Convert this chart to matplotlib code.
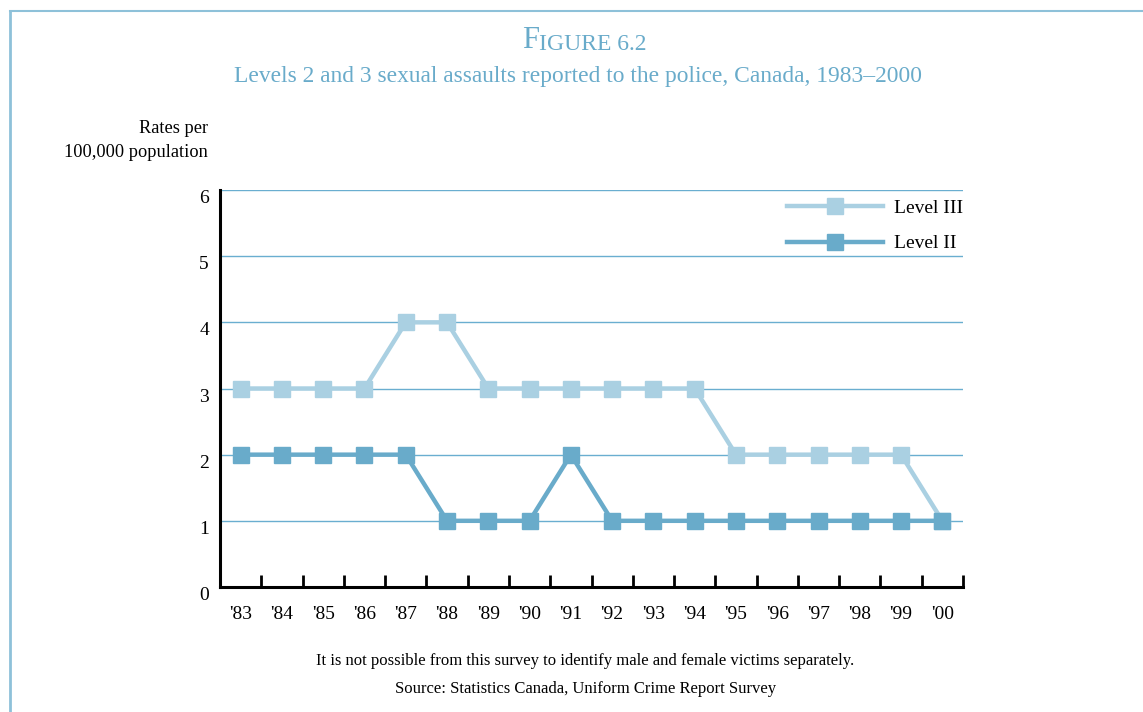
import matplotlib.pyplot as plt
from matplotlib.lines import Line2D

years = ["'83", "'84", "'85", "'86", "'87", "'88", "'89", "'90", "'91",
         "'92", "'93", "'94", "'95", "'96", "'97", "'98", "'99", "'00"]
level3 = [3, 3, 3, 3, 4, 4, 3, 3, 3, 3, 3, 3, 2, 2, 2, 2, 2, 1]
level2 = [2, 2, 2, 2, 2, 1, 1, 1, 2, 1, 1, 1, 1, 1, 1, 1, 1, 1]

light = "#aad0e2"
dark = "#69abca"
grid = "#6aaed0"
frame = "#8ec1d9"

plt.rcParams['font.family'] = ['Liberation Serif', 'DejaVu Serif']

fig = plt.figure(figsize=(11.43, 7.12), dpi=100)
ax = fig.add_axes([0.1925, 0.1756, 0.65, 0.5575])

x = list(range(len(years)))
ax.plot(x, level3, color=light, lw=3.2, marker="s", ms=11, mec=light,
        label="Level III", solid_joinstyle="miter", zorder=3)
ax.plot(x, level2, color=dark, lw=3.2, marker="s", ms=11, mec=dark,
        label="Level II", solid_joinstyle="miter", zorder=4)

ax.set_xlim(-0.5, len(years) - 0.5)
ax.set_ylim(0, 6)
ax.set_yticks(range(0, 7))
for v in range(1, 7):
    ax.axhline(v, color=grid, lw=1, zorder=1)

for s in ["top", "right"]:
    ax.spines[s].set_visible(False)
ax.spines["left"].set_linewidth(2.2)
ax.spines["bottom"].set_linewidth(2.2)

ax.set_xticks(x)
ax.set_xticklabels(years, fontsize=14)
ax.set_xticks([i + 0.5 for i in x], minor=True)
ax.tick_params(axis="x", which="major", length=0, pad=14)
ax.tick_params(axis="x", which="minor", direction="in", length=9, width=2)
ax.tick_params(axis="y", length=0, pad=8, labelsize=14)
for lab in ax.get_yticklabels():
    lab.set_verticalalignment("top")

leg = ax.legend(loc="upper right", bbox_to_anchor=(1.024, 1.02), frameon=False,
                fontsize=14, handlelength=4.9, labelspacing=0.9, handletextpad=0.6)

fig.text(0.182, 0.803, "Rates per\n100,000 population", ha="right", va="center",
         fontsize=13.2, linespacing=1.55)

t1 = fig.text(0.4565, 0.932, "F", fontsize=22, color=dark, ha="left", va="baseline")
ax.annotate("IGURE 6.2", xy=(1, 0), xycoords=t1, fontsize=17, color=dark,
            ha="left", va="bottom", annotation_clip=False)
fig.text(0.506, 0.893, "Levels 2 and 3 sexual assaults reported to the police, Canada, 1983\u20132000",
         fontsize=16.9, color=dark, ha="center", va="center")

fig.text(0.512, 0.072, "It is not possible from this survey to identify male and female victims separately.",
         fontsize=12, ha="center", va="center")
fig.text(0.512, 0.032, "Source: Statistics Canada, Uniform Crime Report Survey",
         fontsize=12, ha="center", va="center")

fig.add_artist(Line2D([0.0085, 0.0085], [0, 0.985], color=frame, lw=2, transform=fig.transFigure))
fig.add_artist(Line2D([0.0085, 1], [0.985, 0.985], color=frame, lw=1.5, transform=fig.transFigure))

fig.savefig("out.png", dpi=100)
